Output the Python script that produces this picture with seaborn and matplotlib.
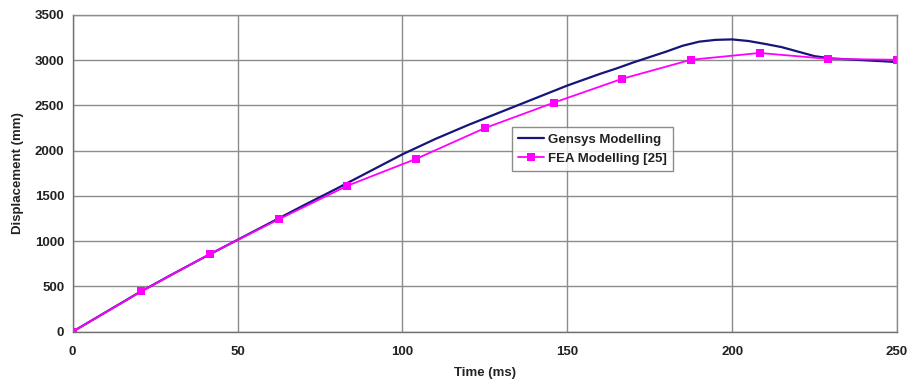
import matplotlib
matplotlib.use("Agg")
import matplotlib.pyplot as plt
import seaborn as sns
import pandas as pd

# Gensys Modelling (smooth curve)
gensys_t = [0, 10, 20, 30, 40, 50, 60, 70, 80, 90, 100, 110, 120, 130, 140, 150,
            160, 165, 170, 175, 180, 185, 190, 195, 200, 205, 210, 215, 220, 225,
            230, 235, 240, 245, 250]
gensys_v = [0, 215, 430, 630, 825, 1015, 1205, 1395, 1580, 1770, 1960, 2130, 2285,
            2430, 2575, 2720, 2850, 2910, 2975, 3035, 3095, 3160, 3205, 3225, 3230,
            3212, 3180, 3145, 3095, 3045, 3020, 3010, 3000, 2990, 2980]

# FEA Modelling [25] (markers)
fea_t = [0, 20.83, 41.67, 62.5, 83.33, 104.17, 125, 145.83, 166.67, 187.5, 208.33,
         229.17, 250]
fea_v = [0, 445, 860, 1242, 1613, 1910, 2250, 2530, 2795, 3005, 3080, 3015, 3005]

x_ticks = [0, 50, 100, 150, 200, 250]
y_ticks = [0, 500, 1000, 1500, 2000, 2500, 3000, 3500]

df_g = pd.DataFrame({"t": gensys_t, "v": gensys_v})
df_f = pd.DataFrame({"t": fea_t, "v": fea_v})

sns.set_style("white")
plt.rcParams["font.family"] = ["Liberation Sans", "DejaVu Sans"]

fig = plt.figure(figsize=(9.14, 3.91), dpi=100)
ax = fig.add_axes([0.0795, 0.1517, 0.9019, 0.81])

sns.lineplot(data=df_g, x="t", y="v", ax=ax, color="#15157a", lw=1.6,
             label="Gensys Modelling", sort=False)
sns.lineplot(data=df_f, x="t", y="v", ax=ax, color="#ff00ff", lw=1.3,
             marker="s", markersize=6, markeredgewidth=0, markerfacecolor="#ff00ff",
             label="FEA Modelling [25]", sort=False)

ax.set_xlim(0, 250)
ax.set_ylim(0, 3500)
ax.set_xticks(x_ticks)
ax.set_yticks(y_ticks)
ax.grid(True, color="#8c8c8c", lw=1.0)
ax.set_axisbelow(True)
for s in ax.spines.values():
    s.set_color("#8c8c8c")
    s.set_linewidth(1.0)
ax.spines["left"].set_color("#707070")
ax.spines["bottom"].set_color("#707070")

ax.tick_params(axis="y", length=4, pad=2, color="#707070", labelsize=9.5)
ax.tick_params(axis="x", length=3, pad=9, color="#707070", labelsize=9.5,
               direction="inout")
for lab in ax.get_xticklabels():
    lab.set_fontweight("bold")
    lab.set_color("#222222")
for lab in ax.get_yticklabels():
    lab.set_fontweight("bold")
    lab.set_color("#222222")

ax.set_xlabel("Time (ms)", fontsize=9.5, fontweight="bold", color="#222222",
              labelpad=6)
ax.set_ylabel("Displacement (mm)", fontsize=9.5, fontweight="bold", color="#222222",
              labelpad=8)

leg = ax.legend(loc="upper left", bbox_to_anchor=(0.533, 0.645), frameon=True,
                fancybox=False, edgecolor="#707070", fontsize=9.5,
                handlelength=2.0, handletextpad=0.3, borderpad=0.45,
                labelspacing=0.55, borderaxespad=0)
leg.get_frame().set_linewidth(1.0)
for t in leg.get_texts():
    t.set_fontweight("bold")
    t.set_color("#222222")

fig.savefig("out.png", dpi=100)
